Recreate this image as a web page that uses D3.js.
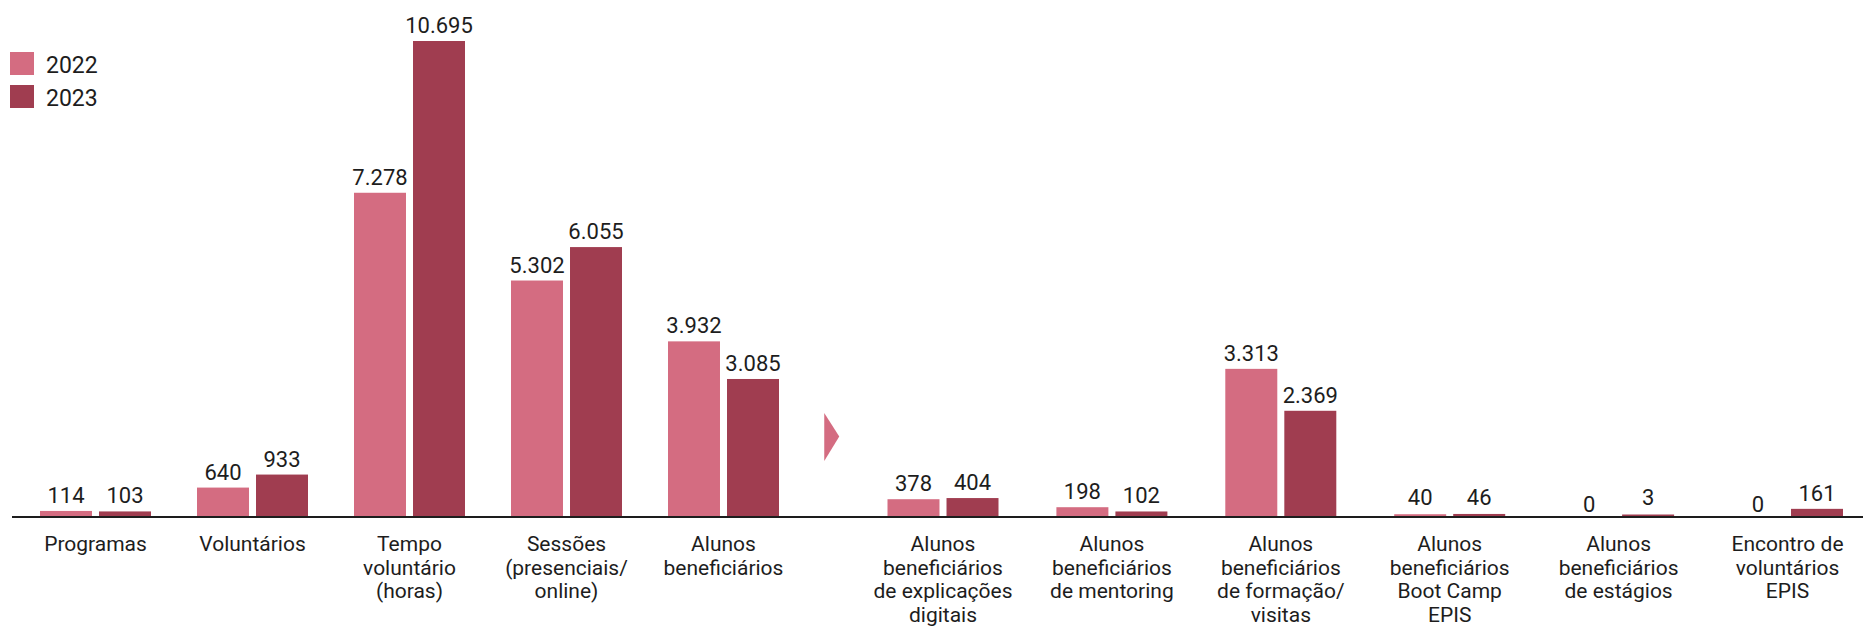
<!DOCTYPE html>
<html>
<head>
<meta charset="utf-8">
<script src="https://cdn.jsdelivr.net/npm/d3@7"></script>
<style>
  body { margin: 0; background: #fff; }
  svg text { font-family: Roboto, "Noto Sans", sans-serif; fill: #1d1d1d; }
</style>
</head>
<body>
<div id="chart"></div>
<script>
// categories, split in two blocks separated by the arrow
const categoriesA = ["Programas", "Voluntários", "Tempo voluntário (horas)", "Sessões (presenciais/ online)", "Alunos beneficiários"];
const categoriesB = ["Alunos beneficiários de explicações digitais", "Alunos beneficiários de mentoring",
    "Alunos beneficiários de formação/ visitas", "Alunos beneficiários Boot Camp EPIS",
    "Alunos beneficiários de estágios", "Encontro de voluntários EPIS"];
const labelLines = [
    ["Programas"], ["Voluntários"], ["Tempo", "voluntário", "(horas)"], ["Sessões", "(presenciais/", "online)"],
    ["Alunos", "beneficiários"], ["Alunos", "beneficiários", "de explicações", "digitais"],
    ["Alunos", "beneficiários", "de mentoring"], ["Alunos", "beneficiários", "de formação/", "visitas"],
    ["Alunos", "beneficiários", "Boot Camp", "EPIS"], ["Alunos", "beneficiários", "de estágios"],
    ["Encontro de", "voluntários", "EPIS"]
];
const years = ["2022", "2023"];
const values2022 = [114, 640, 7278, 5302, 3932, 378, 198, 3313, 40, 0, 0];
const values2023 = [103, 933, 10695, 6055, 3085, 404, 102, 2369, 46, 3, 161];

function makeChart() {
    const width = 1863,
        height = 627,
        baseY = 516;

    const color = d3.scaleOrdinal().domain(years).range(["#d46c81", "#a03d50"]);
    const pt = d3.formatLocale({ decimal: ",", thousands: ".", grouping: [3], currency: ["", "€"] }).format(",d");

    let svg = d3.select('#chart').append('svg')
        .attr('width', width)
        .attr('height', height);

    const xA = d3.scalePoint().domain(categoriesA).range([95.5, 723.5]);
    const xB = d3.scalePoint().domain(categoriesB).range([943, 1787.5]);
    const xCenter = c => categoriesA.includes(c) ? xA(c) : xB(c);

    const xSub = d3.scaleBand().domain(years).range([-55.5, 55.5]).paddingInner(0.119);

    const y = d3.scaleLinear()
        .domain([0, d3.max(values2023)])
        .range([baseY, 41]);

    const categories = categoriesA.concat(categoriesB);
    let rows = [];
    categories.forEach((c, i) => {
        rows.push({ cat: c, year: "2022", value: values2022[i] });
        rows.push({ cat: c, year: "2023", value: values2023[i] });
    });

    // bars
    svg.append('g').selectAll('rect')
        .data(rows.filter(d => d.value > 0))
        .enter().append('rect')
        .attr('x', d => xCenter(d.cat) + xSub(d.year))
        .attr('width', xSub.bandwidth())
        .attr('y', d => Math.min(y(d.value), baseY - 1.5))
        .attr('height', d => baseY - Math.min(y(d.value), baseY - 1.5))
        .attr('fill', d => color(d.year));

    // value labels
    svg.append('g').selectAll('text')
        .data(rows)
        .enter().append('text')
        .attr('x', d => xCenter(d.cat) + xSub(d.year) + xSub.bandwidth() / 2)
        .attr('y', d => d.value === 0 ? baseY - 4 : Math.min(y(d.value), baseY - 3) - 8)
        .attr('text-anchor', 'middle')
        .style('font-size', '22px')
        .text(d => pt(d.value));

    // axis line
    svg.append('line')
        .attr('x1', 12).attr('x2', width)
        .attr('y1', baseY + 1).attr('y2', baseY + 1)
        .attr('stroke', '#1d1d1d')
        .attr('stroke-width', 2.2);

    // category labels
    let cl = svg.append('g').selectAll('text')
        .data(categories)
        .enter().append('text')
        .attr('text-anchor', 'middle')
        .style('font-size', '21px')
        .attr('transform', d => 'translate(' + xCenter(d) + ',' + (baseY + 35) + ')');
    cl.selectAll('tspan')
        .data((d, i) => labelLines[i])
        .enter().append('tspan')
        .attr('x', 0)
        .attr('y', (d, i) => i * 23.5)
        .text(d => d);

    // arrow between the two blocks
    const gapMid = (xA(categoriesA[categoriesA.length - 1]) + 55.5 + xB(categoriesB[0]) - 55.5) / 2;
    svg.append('path')
        .attr('d', 'M' + (gapMid - 9) + ',' + (baseY - 103) + 'L' + (gapMid + 6) + ',' + (baseY - 79.5) +
            'L' + (gapMid - 9) + ',' + (baseY - 55) + 'Z')
        .attr('fill', color("2022"));

    // legend
    let legend = svg.append('g').selectAll('g')
        .data(years)
        .enter().append('g')
        .attr('transform', (d, i) => 'translate(10,' + (52 + i * 33) + ')');
    legend.append('rect')
        .attr('width', 24).attr('height', 23)
        .attr('fill', d => color(d));
    legend.append('text')
        .attr('x', 36).attr('y', 21)
        .style('font-size', '23px')
        .text(d => d);
}

makeChart();
</script>
</body>
</html>
